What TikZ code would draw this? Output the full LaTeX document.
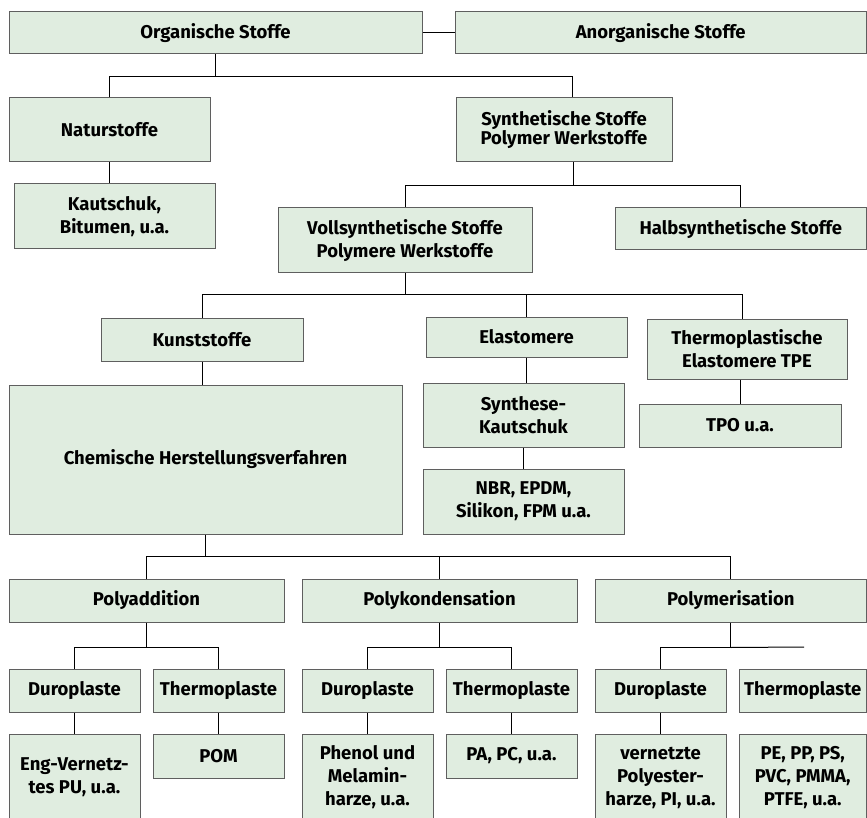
\documentclass[tikz,border=0pt]{standalone}
\usepackage{fontspec}
\setmainfont{Fira Sans}
\usepackage{tikz}

\definecolor{boxgreen}{RGB}{224,237,224}
\definecolor{boxline}{RGB}{95,95,95}

\begin{document}
\begin{tikzpicture}[x=1pt,y=-1pt,
greenbox/.style={rectangle, draw=boxline, fill=boxgreen, line width=1pt, align=center, inner sep=0pt, font=\fontsize{18.5}{23}\selectfont\bfseries},
link/.style={draw=black, line width=1pt}
]
\clip (0,0) rectangle (867,818);

%Nodes
\node[greenbox, minimum width=413pt, minimum height=42pt] at (215.5,33) (ORG) {Organische Stoffe};
\node[greenbox, minimum width=411.5pt, minimum height=42pt] at (660.75,33) (ANORG) {Anorganische Stoffe};

\node[greenbox, minimum width=201pt, minimum height=64pt] at (109.5,130) (NATUR) {Naturstoffe};
\node[greenbox, minimum width=201pt, minimum height=65pt] at (114.5,216.5) (KAUT) {Kautschuk,\\Bitumen, u.a.};
\node[greenbox, minimum width=216pt, minimum height=64pt, font=\fontsize{18.5}{19}\selectfont\bfseries] at (564,130) (SYNTH) {Synthetische Stoffe\\Polymer Werkstoffe};

\node[greenbox, minimum width=254pt, minimum height=65pt] at (405,240.5) (VOLL) {Vollsynthetische Stoffe\\Polymere Werkstoffe};
\node[greenbox, minimum width=251.5pt, minimum height=42pt] at (740.75,229) (HALB) {Halbsynthetische Stoffe};

\node[greenbox, minimum width=202pt, minimum height=43pt] at (202,339.5) (KUNST) {Kunststoffe};
\node[greenbox, minimum width=393pt, minimum height=149pt] at (205.5,459.5) (CHEM) {Chemische Herstellungsverfahren};

\node[greenbox, minimum width=201pt, minimum height=40pt] at (526.5,337) (ELAST) {Elastomere};
\node[greenbox, minimum width=201pt, minimum height=64pt] at (523.5,415) (SYNK) {Synthese-\\Kautschuk};
\node[greenbox, minimum width=201pt, minimum height=65pt] at (523.5,501.5) (NBR) {NBR, EPDM,\\Silikon, FPM u.a.};

\node[greenbox, minimum width=200pt, minimum height=60pt] at (747,349) (TPE) {Thermoplastische\\Elastomere TPE};
\node[greenbox, minimum width=202pt, minimum height=43pt] at (740,425.5) (TPO) {TPO u.a.};

\node[greenbox, minimum width=275pt, minimum height=43pt] at (146.5,600.5) (PADD) {Polyaddition};
\node[greenbox, minimum width=275pt, minimum height=43pt] at (439.5,600.5) (PKOND) {Polykondensation};
\node[greenbox, minimum width=271.5pt, minimum height=43pt] at (730.75,600.5) (PMER) {Polymerisation};

\node[greenbox, minimum width=131pt, minimum height=43pt] at (74.5,690.5) (DURO-1) {Duroplaste};
\node[greenbox, minimum width=131pt, minimum height=43pt] at (218.5,690.5) (THERMO-1) {Thermoplaste};
\node[greenbox, minimum width=131pt, minimum height=43pt] at (367.5,690.5) (DURO-2) {Duroplaste};
\node[greenbox, minimum width=131pt, minimum height=43pt] at (511.5,690.5) (THERMO-2) {Thermoplaste};
\node[greenbox, minimum width=131pt, minimum height=43pt] at (660.5,690.5) (DURO-3) {Duroplaste};
\node[greenbox, minimum width=127.5pt, minimum height=43pt] at (802.75,690.5) (THERMO-3) {Thermoplaste};

\node[greenbox, minimum width=131pt, minimum height=87pt] at (74.5,777.5) (ENG) {Eng-Vernetz-\\tes PU, u.a.};
\node[greenbox, minimum width=131pt, minimum height=44pt] at (218.5,756) (POM) {POM};
\node[greenbox, minimum width=131pt, minimum height=87pt] at (367.5,777.5) (PHENOL) {Phenol und\\Melamin-\\harze, u.a.};
\node[greenbox, minimum width=131pt, minimum height=44pt] at (511.5,756) (PAPC) {PA, PC, u.a.};
\node[greenbox, minimum width=131pt, minimum height=87pt] at (660.5,777.5) (VERN) {vernetzte\\Polyester-\\harze, PI, u.a.};
\node[greenbox, minimum width=127.5pt, minimum height=87pt] at (802.75,777.5) (PE) {PE, PP, PS,\\PVC, PMMA,\\PTFE, u.a.};

\coordinate (PMER-END) at (804,647);

%Lines
\draw[link] (ORG.east) -- (ANORG.west);
\draw[link] (ORG.south) -- ++(0,22) -| (NATUR.north);
\draw[link] (ORG.south) ++(0,22) -| ([xshift=8pt]SYNTH.north);
\draw[link] (NATUR.south) -- (NATUR.south |- KAUT.north);

\draw[link] ([xshift=9pt]SYNTH.south) -- ++(0,23) -| (VOLL.north);
\draw[link] ([xshift=9pt]SYNTH.south) ++(0,23) -| (HALB.north);

\draw[link] (VOLL.south) -- ++(0,21) -| (KUNST.north);
\draw[link] (VOLL.south) ++(0,21) -| (ELAST.north);
\draw[link] (VOLL.south) ++(0,21) -| ([xshift=-5pt]TPE.north);

\draw[link] (KUNST.south) -- (KUNST.south |- CHEM.north);
\draw[link] (ELAST.south) -- (ELAST.south |- SYNK.north);
\draw[link] (SYNK.south) -- (NBR.north);
\draw[link] (TPO.north |- TPE.south) -- (TPO.north);

\draw[link] (CHEM.south) -- ++(0,22) -| (PADD.north);
\draw[link] (CHEM.south) ++(0,22) -| (PKOND.north);
\draw[link] (CHEM.south) ++(0,22) -| (PMER.north);

\draw[link] (PADD.south) -- ++(0,25) -| (DURO-1.north);
\draw[link] (PADD.south) ++(0,25) -| (THERMO-1.north);
\draw[link] (PKOND.south) -- ++(0,25) -| (DURO-2.north);
\draw[link] (PKOND.south) ++(0,25) -| (THERMO-2.north);
\draw[link] (PMER.south) -- ++(0,25) -| (DURO-3.north);
\draw[link] (PMER.south) ++(0,25) -- (PMER-END);

\draw[link] (DURO-1) -- (ENG);
\draw[link] (THERMO-1) -- (POM);
\draw[link] (DURO-2) -- (PHENOL);
\draw[link] (THERMO-2) -- (PAPC);
\draw[link] (DURO-3) -- (VERN);
\end{tikzpicture}
\end{document}
